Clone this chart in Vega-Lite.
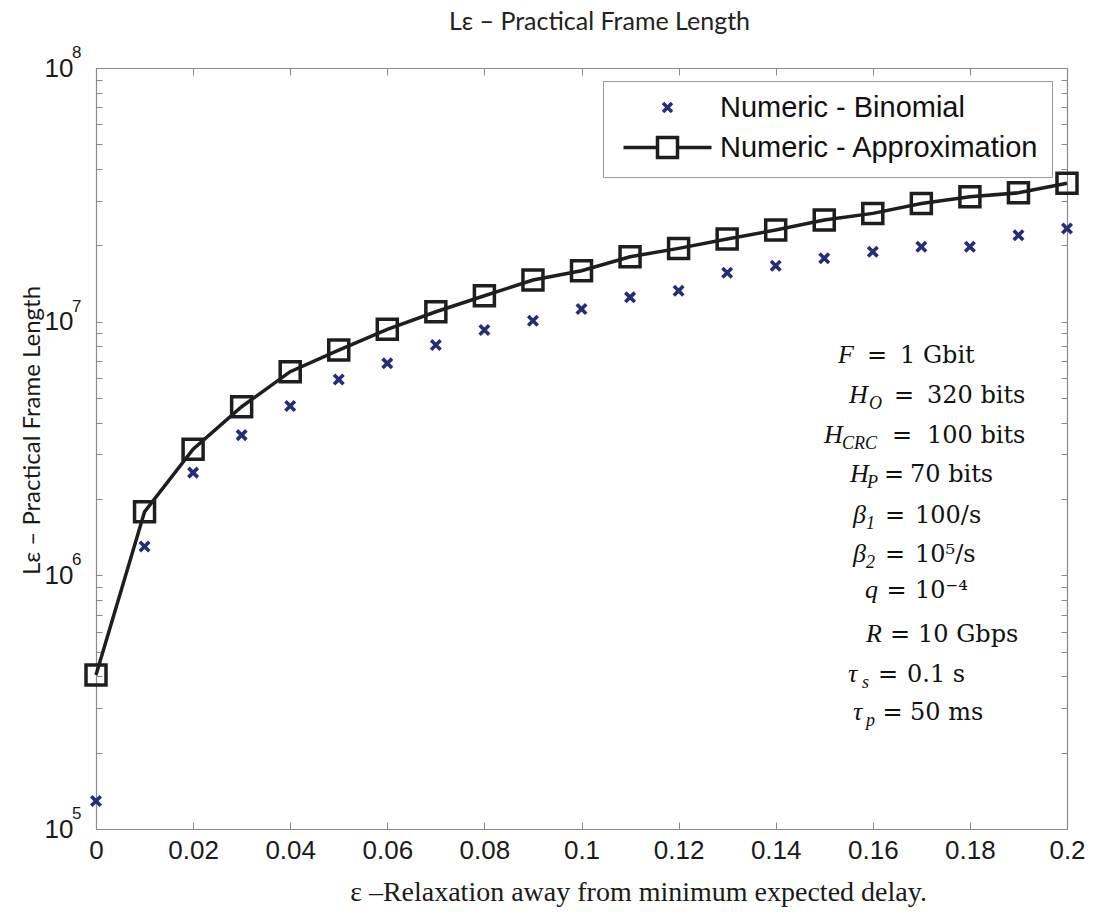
{
  "$schema": "https://vega.github.io/schema/vega-lite/v6.json",
  "width": 971,
  "height": 761,
  "autosize": "none",
  "padding": {"left": 96, "top": 68, "right": 30, "bottom": 89},
  "background": "white",
  "config": {
    "view": {"stroke": null},
    "axis": {"grid": false, "domainColor": "#8a8a8a", "tickColor": "#8a8a8a", "domainWidth": 1.2, "tickWidth": 1, "labelFont": "Liberation Sans", "labelFontSize": 26, "labelColor": "#1a1a1a"}
  },
  "title": {
    "text": "Lε – Practical Frame Length",
    "font": "Lato",
    "fontSize": 25,
    "fontWeight": "normal",
    "color": "#222222",
    "anchor": "middle",
    "dx": 18,
    "offset": -11,
    "baseline": "alphabetic"
  },
  "datasets": {
    "series": [
      {"e": 0, "v": 405000, "s": "Numeric - Approximation"},
      {"e": 0.01, "v": 1780000, "s": "Numeric - Approximation"},
      {"e": 0.02, "v": 3140000, "s": "Numeric - Approximation"},
      {"e": 0.03, "v": 4620000, "s": "Numeric - Approximation"},
      {"e": 0.04, "v": 6350000, "s": "Numeric - Approximation"},
      {"e": 0.05, "v": 7730000, "s": "Numeric - Approximation"},
      {"e": 0.06, "v": 9330000, "s": "Numeric - Approximation"},
      {"e": 0.07, "v": 10940000, "s": "Numeric - Approximation"},
      {"e": 0.08, "v": 12650000, "s": "Numeric - Approximation"},
      {"e": 0.09, "v": 14590000, "s": "Numeric - Approximation"},
      {"e": 0.1, "v": 15880000, "s": "Numeric - Approximation"},
      {"e": 0.11, "v": 18030000, "s": "Numeric - Approximation"},
      {"e": 0.12, "v": 19450000, "s": "Numeric - Approximation"},
      {"e": 0.13, "v": 21170000, "s": "Numeric - Approximation"},
      {"e": 0.14, "v": 22970000, "s": "Numeric - Approximation"},
      {"e": 0.15, "v": 25150000, "s": "Numeric - Approximation"},
      {"e": 0.16, "v": 26720000, "s": "Numeric - Approximation"},
      {"e": 0.17, "v": 29250000, "s": "Numeric - Approximation"},
      {"e": 0.18, "v": 31050000, "s": "Numeric - Approximation"},
      {"e": 0.19, "v": 32200000, "s": "Numeric - Approximation"},
      {"e": 0.2, "v": 35100000, "s": "Numeric - Approximation"},
      {"e": 0, "v": 129000, "s": "Numeric - Binomial"},
      {"e": 0.01, "v": 1300000, "s": "Numeric - Binomial"},
      {"e": 0.02, "v": 2540000, "s": "Numeric - Binomial"},
      {"e": 0.03, "v": 3570000, "s": "Numeric - Binomial"},
      {"e": 0.04, "v": 4650000, "s": "Numeric - Binomial"},
      {"e": 0.05, "v": 5920000, "s": "Numeric - Binomial"},
      {"e": 0.06, "v": 6850000, "s": "Numeric - Binomial"},
      {"e": 0.07, "v": 8090000, "s": "Numeric - Binomial"},
      {"e": 0.08, "v": 9270000, "s": "Numeric - Binomial"},
      {"e": 0.09, "v": 10090000, "s": "Numeric - Binomial"},
      {"e": 0.1, "v": 11210000, "s": "Numeric - Binomial"},
      {"e": 0.11, "v": 12470000, "s": "Numeric - Binomial"},
      {"e": 0.12, "v": 13240000, "s": "Numeric - Binomial"},
      {"e": 0.13, "v": 15600000, "s": "Numeric - Binomial"},
      {"e": 0.14, "v": 16600000, "s": "Numeric - Binomial"},
      {"e": 0.15, "v": 17780000, "s": "Numeric - Binomial"},
      {"e": 0.16, "v": 18860000, "s": "Numeric - Binomial"},
      {"e": 0.17, "v": 19740000, "s": "Numeric - Binomial"},
      {"e": 0.18, "v": 19740000, "s": "Numeric - Binomial"},
      {"e": 0.19, "v": 21900000, "s": "Numeric - Binomial"},
      {"e": 0.2, "v": 23300000, "s": "Numeric - Binomial"}
    ],
    "pows": [
      {"v": 100000, "p": "5"},
      {"v": 1000000, "p": "6"},
      {"v": 10000000, "p": "7"},
      {"v": 100000000, "p": "8"}
    ],
    "notes": [
      {"sym": "F", "sub": "", "val": "1 Gbit", "xs": 0.15283, "xb": 0.157, "xq": 0.1588, "xv": 0.1656, "y": 6868000},
      {"sym": "H", "sub": "O", "val": "320 bits", "xs": 0.1551, "xb": 0.15922, "xq": 0.16436, "xv": 0.17116, "y": 4764000},
      {"sym": "H", "sub": "CRC", "val": "100 bits", "xs": 0.14995, "xb": 0.15366, "xq": 0.16395, "xv": 0.17116, "y": 3322000},
      {"sym": "H", "sub": "P", "val": "70 bits", "xs": 0.15531, "xb": 0.1588, "xq": 0.1623, "xv": 0.16766, "y": 2339000},
      {"sym": "β", "sub": "1", "val": "100/s", "xs": 0.15592, "xb": 0.1586, "xq": 0.16251, "xv": 0.16869, "y": 1603000},
      {"sym": "β", "sub": "2", "val": "10⁵/s", "xs": 0.15592, "xb": 0.1586, "xq": 0.16251, "xv": 0.16869, "y": 1131000},
      {"sym": "q", "sub": "", "val": "10⁻⁴", "xs": 0.15839, "xb": 0.162, "xq": 0.16282, "xv": 0.16869, "y": 813700},
      {"sym": "R", "sub": "", "val": "10 Gbps", "xs": 0.1586, "xb": 0.163, "xq": 0.16354, "xv": 0.16931, "y": 547400},
      {"sym": "τ", "sub": "s", "val": "0.1 s", "xs": 0.15489, "xb": 0.15777, "xq": 0.16107, "xv": 0.16705, "y": 380700},
      {"sym": "τ", "sub": "p", "val": "50 ms", "xs": 0.15592, "xb": 0.1586, "xq": 0.162, "xv": 0.16766, "y": 268900}
    ]
  },
  "layer": [
    {
      "data": {"name": "series"},
      "transform": [{"filter": "datum.s == 'Numeric - Approximation'"}],
      "mark": {"type": "line", "color": "#1e1e1e", "strokeWidth": 3.5},
      "encoding": {
        "x": {
          "field": "e", "type": "quantitative",
          "scale": {"domain": [0, 0.2], "nice": false, "zero": false},
          "axis": {
            "orient": "bottom",
            "values": [0, 0.02, 0.04, 0.06, 0.08, 0.1, 0.12, 0.14, 0.16, 0.18, 0.2],
            "labelExpr": "format(datum.value, '~g')",
            "tickSize": -7,
            "labelPadding": 15,
            "labelBaseline": "top",
            "labelFlush": false,
            "title": "ε –Relaxation away from minimum expected delay.",
            "titleFont": "Liberation Serif",
            "titleFontSize": 28,
            "titleFontWeight": "normal",
            "titleColor": "#1a1a1a",
            "titleX": 542,
            "titleY": 71,
            "titleAlign": "center",
            "titleBaseline": "alphabetic"
          }
        },
        "y": {
          "field": "v", "type": "quantitative",
          "scale": {"type": "log", "domain": [100000, 100000000], "nice": false},
          "axis": {
            "orient": "left",
            "values": [100000, 200000, 300000, 400000, 500000, 600000, 700000, 800000, 900000, 1000000, 2000000, 3000000, 4000000, 5000000, 6000000, 7000000, 8000000, 9000000, 10000000, 20000000, 30000000, 40000000, 50000000, 60000000, 70000000, 80000000, 90000000, 100000000],
            "labelExpr": "datum.value == 100000 || datum.value == 1000000 || datum.value == 10000000 || datum.value == 100000000 ? '10' : ''",
            "tickSize": -6,
            "labelPadding": 29,
            "labelFlush": false,
            "labelOverlap": false,
            "title": "Lε – Practical Frame Length",
            "titleFont": "Lato",
            "titleFontSize": 24,
            "titleFontWeight": "normal",
            "titleColor": "#1a1a1a",
            "titleAngle": -90,
            "titleX": -57,
            "titleY": 362,
            "titleAlign": "center",
            "titleBaseline": "alphabetic"
          }
        }
      }
    },
    {
      "data": {"name": "series"},
      "transform": [{"filter": "datum.s == 'Numeric - Approximation'"}],
      "mark": {"type": "point", "shape": "square", "size": 400, "filled": false, "color": "#1e1e1e", "strokeWidth": 3.5, "opacity": 1},
      "encoding": {
        "x": {"field": "e", "type": "quantitative", "axis": {"orient": "top", "values": [0, 0.02, 0.04, 0.06, 0.08, 0.1, 0.12, 0.14, 0.16, 0.18, 0.2], "labels": false, "tickSize": -7, "title": null}},
        "y": {"field": "v", "type": "quantitative", "axis": {"orient": "right", "values": [100000, 200000, 300000, 400000, 500000, 600000, 700000, 800000, 900000, 1000000, 2000000, 3000000, 4000000, 5000000, 6000000, 7000000, 8000000, 9000000, 10000000, 20000000, 30000000, 40000000, 50000000, 60000000, 70000000, 80000000, 90000000, 100000000], "labels": false, "tickSize": -6, "title": null}}
      }
    },
    {
      "data": {"name": "series"},
      "transform": [{"filter": "datum.s == 'Numeric - Binomial'"}],
      "mark": {"type": "point", "shape": "M-1,-1L1,1M1,-1L-1,1", "size": 90, "filled": false, "color": "#252d7a", "strokeWidth": 3.6, "opacity": 1},
      "encoding": {
        "x": {"field": "e", "type": "quantitative", "axis": null},
        "y": {"field": "v", "type": "quantitative", "axis": null}
      }
    },
    {
      "data": {"name": "series"},
      "mark": {"type": "point", "filled": false, "opacity": 0, "strokeWidth": 3},
      "encoding": {
        "x": {"field": "e", "type": "quantitative", "axis": null},
        "y": {"field": "v", "type": "quantitative", "axis": null},
        "color": {
          "field": "s", "type": "nominal",
          "scale": {"domain": ["Numeric - Binomial", "Numeric - Approximation"], "range": ["#252d7a", "#1e1e1e"]},
          "legend": {
            "orient": "none",
            "legendX": 507,
            "legendY": 13,
            "title": null,
            "strokeColor": "#9a9a9a",
            "fillColor": "white",
            "padding": 12,
            "symbolOffset": 38,
            "symbolSize": 400,
            "symbolStrokeWidth": 3.5,
            "symbolOpacity": 1,
            "symbolFillColor": "transparent",
            "labelOffset": 38,
            "labelFont": "Liberation Sans",
            "labelFontSize": 29,
            "labelColor": "#111111",
            "labelLimit": 500,
            "rowPadding": 7
          }
        },
        "shape": {
          "field": "s", "type": "nominal",
          "scale": {"domain": ["Numeric - Binomial", "Numeric - Approximation"], "range": ["M-0.45,-0.45L0.45,0.45M0.45,-0.45L-0.45,0.45", "M-4.4,0L-1,0M1,0L4.4,0M-1,-1L1,-1L1,1L-1,1Z"]}
        }
      }
    },
    {
      "data": {"name": "pows"},
      "mark": {"type": "text", "font": "Liberation Sans", "fontSize": 17, "align": "left", "baseline": "middle", "dx": -24, "dy": -15, "color": "#1a1a1a"},
      "encoding": {
        "x": {"datum": 0, "type": "quantitative", "axis": null},
        "y": {"field": "v", "type": "quantitative", "axis": null},
        "text": {"field": "p"}
      }
    },
    {
      "data": {"name": "notes"},
      "mark": {"type": "text", "font": "Liberation Serif", "fontStyle": "italic", "fontSize": 26, "align": "left", "baseline": "alphabetic", "color": "#111111"},
      "encoding": {
        "x": {"field": "xs", "type": "quantitative", "axis": null},
        "y": {"field": "y", "type": "quantitative", "axis": null},
        "text": {"field": "sym"}
      }
    },
    {
      "data": {"name": "notes"},
      "mark": {"type": "text", "font": "Liberation Serif", "fontStyle": "italic", "fontSize": 18, "align": "left", "baseline": "alphabetic", "dy": 6, "color": "#111111"},
      "encoding": {
        "x": {"field": "xb", "type": "quantitative", "axis": null},
        "y": {"field": "y", "type": "quantitative", "axis": null},
        "text": {"field": "sub"}
      }
    },
    {
      "data": {"name": "notes"},
      "mark": {"type": "text", "font": "DejaVu Serif", "fontSize": 24, "align": "left", "baseline": "alphabetic", "color": "#111111", "text": "="},
      "encoding": {
        "x": {"field": "xq", "type": "quantitative", "axis": null},
        "y": {"field": "y", "type": "quantitative", "axis": null}
      }
    },
    {
      "data": {"name": "notes"},
      "mark": {"type": "text", "font": "DejaVu Serif", "fontSize": 24, "align": "left", "baseline": "alphabetic", "color": "#111111"},
      "encoding": {
        "x": {"field": "xv", "type": "quantitative", "axis": null},
        "y": {"field": "y", "type": "quantitative", "axis": null},
        "text": {"field": "val"}
      }
    }
  ],
  "resolve": {"axis": {"x": "independent", "y": "independent"}}
}
